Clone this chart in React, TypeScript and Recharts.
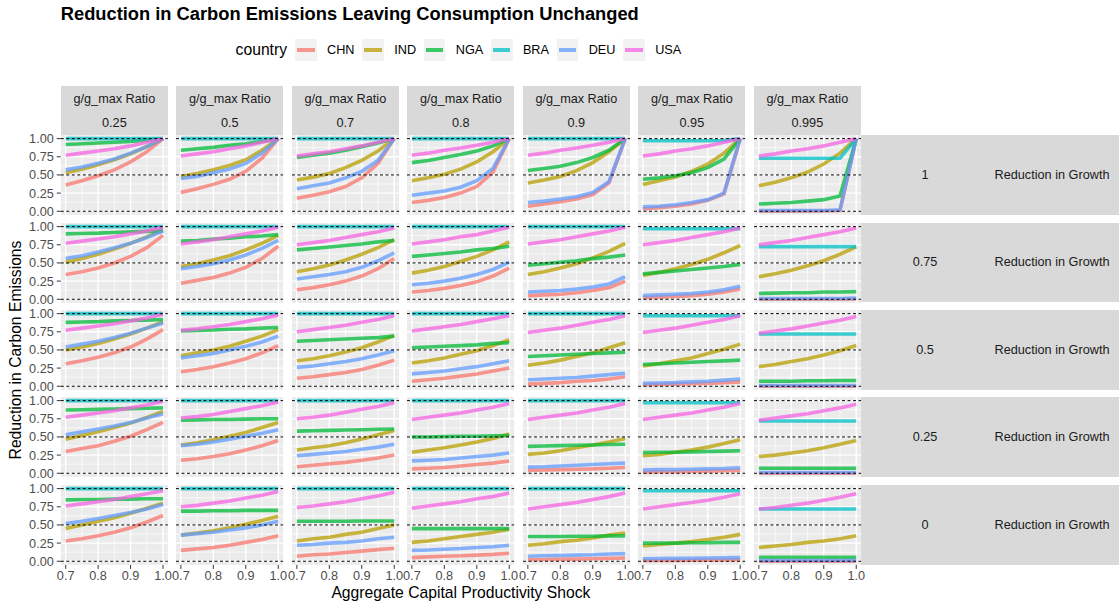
import { LineChart, Line, XAxis, YAxis, CartesianGrid, ReferenceLine } from "recharts";

// x values (aggregate capital productivity shock)
const shocks = [0.7, 0.75, 0.8, 0.85, 0.9, 0.95, 1.0];
// column facets: g/g_max ratio
const ratios = ["0.25", "0.5", "0.7", "0.8", "0.9", "0.95", "0.995"];
// row facets: reduction in growth
const growthCuts = ["1", "0.75", "0.5", "0.25", "0"];
const countries = ["CHN", "IND", "NGA", "BRA", "DEU", "USA"];

// each series: [growth row][ratio column][shock point]
const CHN = [
  [[0.36, 0.42, 0.49, 0.57, 0.68, 0.82, 1.0], [0.26, 0.31, 0.37, 0.44, 0.55, 0.73, 1.0], [0.18, 0.22, 0.27, 0.34, 0.46, 0.66, 1.0], [0.12, 0.15, 0.19, 0.25, 0.34, 0.54, 1.0], [0.07, 0.1, 0.13, 0.17, 0.23, 0.39, 1.0], [0.03, 0.05, 0.07, 0.1, 0.15, 0.24, 1.0], [0.0, 0.0, 0.0, 0.0, 0.005, 0.01, 1.0]],
  [[0.34, 0.38, 0.43, 0.5, 0.59, 0.71, 0.88], [0.22, 0.26, 0.3, 0.36, 0.44, 0.56, 0.73], [0.13, 0.16, 0.2, 0.25, 0.32, 0.42, 0.56], [0.1, 0.12, 0.15, 0.19, 0.24, 0.32, 0.43], [0.05, 0.06, 0.07, 0.09, 0.12, 0.16, 0.25], [0.02, 0.03, 0.04, 0.05, 0.07, 0.1, 0.14], [0.0, 0.0, 0.0, 0.0, 0.0, 0.0, 0.005]],
  [[0.31, 0.35, 0.4, 0.46, 0.54, 0.65, 0.78], [0.2, 0.23, 0.27, 0.32, 0.38, 0.46, 0.56], [0.11, 0.13, 0.16, 0.19, 0.23, 0.29, 0.36], [0.07, 0.09, 0.11, 0.14, 0.17, 0.21, 0.25], [0.03, 0.04, 0.05, 0.07, 0.08, 0.1, 0.13], [0.02, 0.025, 0.03, 0.035, 0.04, 0.05, 0.06], [0.0, 0.0, 0.0, 0.0, 0.0, 0.0, 0.0]],
  [[0.3, 0.34, 0.38, 0.44, 0.51, 0.6, 0.7], [0.18, 0.2, 0.23, 0.27, 0.32, 0.38, 0.45], [0.09, 0.11, 0.13, 0.15, 0.18, 0.21, 0.25], [0.06, 0.07, 0.08, 0.1, 0.12, 0.14, 0.17], [0.04, 0.045, 0.05, 0.055, 0.06, 0.07, 0.08], [0.015, 0.02, 0.02, 0.025, 0.03, 0.035, 0.04], [0.0, 0.0, 0.0, 0.0, 0.0, 0.0, 0.0]],
  [[0.28, 0.31, 0.35, 0.4, 0.46, 0.54, 0.63], [0.15, 0.17, 0.19, 0.22, 0.26, 0.3, 0.35], [0.07, 0.09, 0.1, 0.12, 0.14, 0.16, 0.18], [0.05, 0.06, 0.07, 0.075, 0.085, 0.095, 0.11], [0.02, 0.025, 0.03, 0.03, 0.035, 0.04, 0.045], [0.01, 0.01, 0.012, 0.014, 0.016, 0.018, 0.02], [0.0, 0.0, 0.0, 0.0, 0.0, 0.0, 0.0]],
];
const IND = [
  [[0.53, 0.58, 0.64, 0.71, 0.79, 0.89, 1.0], [0.48, 0.52, 0.57, 0.63, 0.71, 0.84, 1.0], [0.43, 0.47, 0.52, 0.6, 0.7, 0.83, 1.0], [0.42, 0.46, 0.51, 0.58, 0.68, 0.82, 1.0], [0.39, 0.43, 0.48, 0.56, 0.67, 0.82, 1.0], [0.37, 0.42, 0.47, 0.55, 0.65, 0.8, 1.0], [0.35, 0.4, 0.46, 0.54, 0.65, 0.8, 1.0]],
  [[0.51, 0.56, 0.62, 0.69, 0.77, 0.86, 0.96], [0.45, 0.49, 0.54, 0.6, 0.68, 0.77, 0.88], [0.38, 0.42, 0.47, 0.54, 0.62, 0.71, 0.82], [0.36, 0.4, 0.45, 0.52, 0.59, 0.68, 0.79], [0.34, 0.38, 0.43, 0.49, 0.57, 0.66, 0.77], [0.33, 0.37, 0.42, 0.48, 0.55, 0.64, 0.74], [0.31, 0.35, 0.4, 0.46, 0.53, 0.62, 0.72]],
  [[0.5, 0.54, 0.59, 0.65, 0.72, 0.8, 0.89], [0.42, 0.46, 0.5, 0.55, 0.62, 0.69, 0.78], [0.35, 0.38, 0.42, 0.47, 0.53, 0.61, 0.7], [0.32, 0.35, 0.39, 0.44, 0.49, 0.56, 0.64], [0.29, 0.32, 0.36, 0.41, 0.46, 0.53, 0.6], [0.28, 0.31, 0.35, 0.39, 0.45, 0.51, 0.58], [0.27, 0.3, 0.34, 0.38, 0.43, 0.49, 0.56]],
  [[0.47, 0.52, 0.57, 0.63, 0.69, 0.77, 0.85], [0.39, 0.42, 0.46, 0.51, 0.56, 0.63, 0.7], [0.32, 0.35, 0.38, 0.42, 0.47, 0.53, 0.59], [0.29, 0.32, 0.35, 0.39, 0.43, 0.48, 0.54], [0.26, 0.28, 0.31, 0.35, 0.39, 0.43, 0.48], [0.24, 0.26, 0.29, 0.32, 0.36, 0.41, 0.46], [0.23, 0.25, 0.28, 0.31, 0.35, 0.4, 0.45]],
  [[0.45, 0.5, 0.55, 0.6, 0.66, 0.73, 0.8], [0.36, 0.39, 0.42, 0.46, 0.51, 0.56, 0.62], [0.28, 0.31, 0.33, 0.37, 0.4, 0.45, 0.5], [0.26, 0.28, 0.31, 0.34, 0.37, 0.4, 0.44], [0.22, 0.24, 0.27, 0.29, 0.32, 0.36, 0.39], [0.21, 0.23, 0.25, 0.27, 0.3, 0.33, 0.37], [0.19, 0.21, 0.23, 0.26, 0.28, 0.31, 0.35]],
];
const NGA = [
  [[0.92, 0.93, 0.94, 0.95, 0.96, 0.98, 1.0], [0.84, 0.86, 0.88, 0.91, 0.93, 0.96, 1.0], [0.74, 0.77, 0.8, 0.84, 0.89, 0.94, 1.0], [0.67, 0.7, 0.74, 0.78, 0.83, 0.9, 1.0], [0.56, 0.59, 0.62, 0.67, 0.74, 0.84, 1.0], [0.44, 0.46, 0.49, 0.53, 0.6, 0.72, 1.0], [0.1, 0.11, 0.12, 0.14, 0.16, 0.21, 1.0]],
  [[0.9, 0.905, 0.91, 0.92, 0.93, 0.935, 0.94], [0.8, 0.81, 0.83, 0.84, 0.86, 0.87, 0.89], [0.68, 0.7, 0.72, 0.74, 0.76, 0.79, 0.81], [0.59, 0.61, 0.63, 0.65, 0.68, 0.7, 0.73], [0.47, 0.49, 0.51, 0.53, 0.56, 0.58, 0.61], [0.35, 0.37, 0.39, 0.41, 0.43, 0.45, 0.48], [0.08, 0.085, 0.09, 0.09, 0.1, 0.1, 0.105]],
  [[0.88, 0.885, 0.89, 0.9, 0.905, 0.91, 0.92], [0.76, 0.77, 0.775, 0.785, 0.79, 0.8, 0.81], [0.62, 0.63, 0.64, 0.65, 0.66, 0.67, 0.69], [0.53, 0.54, 0.55, 0.56, 0.57, 0.59, 0.6], [0.41, 0.42, 0.43, 0.44, 0.45, 0.46, 0.47], [0.3, 0.31, 0.32, 0.33, 0.34, 0.35, 0.36], [0.07, 0.07, 0.07, 0.075, 0.075, 0.08, 0.08]],
  [[0.87, 0.875, 0.88, 0.885, 0.89, 0.895, 0.9], [0.73, 0.735, 0.74, 0.74, 0.745, 0.75, 0.75], [0.58, 0.585, 0.59, 0.595, 0.6, 0.605, 0.61], [0.5, 0.5, 0.505, 0.51, 0.51, 0.515, 0.52], [0.37, 0.375, 0.38, 0.385, 0.39, 0.395, 0.4], [0.285, 0.29, 0.29, 0.295, 0.3, 0.305, 0.31], [0.07, 0.07, 0.07, 0.07, 0.07, 0.07, 0.07]],
  [[0.845, 0.85, 0.85, 0.855, 0.855, 0.86, 0.86], [0.69, 0.69, 0.695, 0.695, 0.7, 0.7, 0.7], [0.55, 0.55, 0.55, 0.55, 0.555, 0.555, 0.555], [0.45, 0.45, 0.45, 0.45, 0.45, 0.45, 0.45], [0.34, 0.34, 0.34, 0.345, 0.345, 0.35, 0.35], [0.25, 0.25, 0.25, 0.255, 0.255, 0.26, 0.26], [0.055, 0.055, 0.055, 0.055, 0.055, 0.055, 0.055]],
];
const BRA = [
  [[1, 1, 1, 1, 1, 1, 1], [1, 1, 1, 1, 1, 1, 1], [1, 1, 1, 1, 1, 1, 1], [1, 1, 1, 1, 1, 1, 1], [1, 1, 1, 1, 1, 1, 1], [0.97, 0.97, 0.97, 0.97, 0.97, 0.975, 1.0], [0.73, 0.73, 0.73, 0.73, 0.73, 0.73, 1.0]],
  [[1, 1, 1, 1, 1, 1, 1], [1, 1, 1, 1, 1, 1, 1], [1, 1, 1, 1, 1, 1, 1], [1, 1, 1, 1, 1, 1, 1], [1, 1, 1, 1, 1, 1, 1], [0.97, 0.97, 0.97, 0.97, 0.97, 0.97, 0.97], [0.725, 0.725, 0.725, 0.725, 0.725, 0.725, 0.725]],
  [[1, 1, 1, 1, 1, 1, 1], [1, 1, 1, 1, 1, 1, 1], [1, 1, 1, 1, 1, 1, 1], [1, 1, 1, 1, 1, 1, 1], [1, 1, 1, 1, 1, 1, 1], [0.97, 0.97, 0.97, 0.97, 0.97, 0.97, 0.97], [0.72, 0.72, 0.72, 0.72, 0.72, 0.72, 0.72]],
  [[1, 1, 1, 1, 1, 1, 1], [1, 1, 1, 1, 1, 1, 1], [1, 1, 1, 1, 1, 1, 1], [1, 1, 1, 1, 1, 1, 1], [1, 1, 1, 1, 1, 1, 1], [0.97, 0.97, 0.97, 0.97, 0.97, 0.97, 0.97], [0.72, 0.72, 0.72, 0.72, 0.72, 0.72, 0.72]],
  [[1, 1, 1, 1, 1, 1, 1], [1, 1, 1, 1, 1, 1, 1], [1, 1, 1, 1, 1, 1, 1], [1, 1, 1, 1, 1, 1, 1], [1, 1, 1, 1, 1, 1, 1], [0.97, 0.97, 0.97, 0.97, 0.97, 0.97, 0.97], [0.72, 0.72, 0.72, 0.72, 0.72, 0.72, 0.72]],
];
const DEU = [
  [[0.57, 0.61, 0.66, 0.72, 0.8, 0.89, 1.0], [0.45, 0.48, 0.53, 0.58, 0.66, 0.8, 1.0], [0.31, 0.35, 0.39, 0.46, 0.55, 0.7, 1.0], [0.22, 0.25, 0.28, 0.33, 0.42, 0.59, 1.0], [0.12, 0.14, 0.17, 0.2, 0.26, 0.41, 1.0], [0.06, 0.07, 0.09, 0.12, 0.16, 0.25, 1.0], [0.01, 0.01, 0.01, 0.01, 0.01, 0.02, 1.0]],
  [[0.56, 0.6, 0.65, 0.71, 0.77, 0.85, 0.94], [0.42, 0.45, 0.49, 0.54, 0.61, 0.7, 0.81], [0.28, 0.31, 0.34, 0.38, 0.44, 0.53, 0.64], [0.2, 0.22, 0.25, 0.29, 0.34, 0.41, 0.51], [0.1, 0.11, 0.12, 0.14, 0.17, 0.21, 0.31], [0.05, 0.06, 0.07, 0.08, 0.1, 0.13, 0.18], [0.01, 0.01, 0.01, 0.01, 0.01, 0.01, 0.015]],
  [[0.54, 0.58, 0.62, 0.67, 0.73, 0.8, 0.87], [0.39, 0.42, 0.45, 0.5, 0.55, 0.61, 0.69], [0.26, 0.28, 0.31, 0.34, 0.38, 0.43, 0.49], [0.17, 0.19, 0.21, 0.24, 0.27, 0.31, 0.35], [0.09, 0.1, 0.11, 0.12, 0.14, 0.16, 0.18], [0.04, 0.045, 0.05, 0.06, 0.07, 0.085, 0.1], [0.01, 0.01, 0.01, 0.01, 0.01, 0.01, 0.01]],
  [[0.53, 0.57, 0.61, 0.65, 0.7, 0.76, 0.82], [0.38, 0.4, 0.43, 0.47, 0.51, 0.55, 0.6], [0.24, 0.26, 0.28, 0.3, 0.33, 0.36, 0.4], [0.17, 0.18, 0.19, 0.21, 0.23, 0.25, 0.28], [0.085, 0.09, 0.1, 0.11, 0.12, 0.13, 0.14], [0.045, 0.05, 0.05, 0.055, 0.06, 0.065, 0.075], [0.01, 0.01, 0.01, 0.01, 0.01, 0.01, 0.01]],
  [[0.52, 0.55, 0.59, 0.63, 0.67, 0.72, 0.78], [0.36, 0.38, 0.4, 0.43, 0.46, 0.5, 0.55], [0.22, 0.23, 0.25, 0.26, 0.28, 0.31, 0.33], [0.15, 0.155, 0.165, 0.175, 0.19, 0.2, 0.22], [0.07, 0.075, 0.08, 0.085, 0.09, 0.1, 0.105], [0.035, 0.037, 0.04, 0.042, 0.045, 0.047, 0.05], [0.01, 0.01, 0.01, 0.01, 0.01, 0.01, 0.01]],
];
const USA = [
  [[0.77, 0.8, 0.83, 0.86, 0.9, 0.95, 1.0], [0.76, 0.79, 0.82, 0.86, 0.9, 0.95, 1.0], [0.76, 0.79, 0.82, 0.86, 0.9, 0.95, 1.0], [0.77, 0.8, 0.84, 0.87, 0.91, 0.95, 1.0], [0.77, 0.8, 0.84, 0.87, 0.91, 0.95, 1.0], [0.76, 0.79, 0.83, 0.86, 0.9, 0.95, 1.0], [0.76, 0.79, 0.83, 0.86, 0.9, 0.95, 1.0]],
  [[0.77, 0.8, 0.83, 0.86, 0.9, 0.94, 0.99], [0.76, 0.79, 0.82, 0.86, 0.9, 0.94, 0.99], [0.75, 0.78, 0.81, 0.85, 0.89, 0.93, 0.98], [0.76, 0.79, 0.82, 0.86, 0.89, 0.94, 0.99], [0.76, 0.79, 0.82, 0.86, 0.9, 0.94, 0.99], [0.75, 0.78, 0.81, 0.85, 0.89, 0.93, 0.98], [0.75, 0.78, 0.81, 0.85, 0.89, 0.93, 0.98]],
  [[0.77, 0.8, 0.83, 0.86, 0.9, 0.94, 0.99], [0.77, 0.79, 0.82, 0.85, 0.89, 0.93, 0.98], [0.75, 0.78, 0.81, 0.84, 0.88, 0.92, 0.97], [0.76, 0.79, 0.82, 0.85, 0.89, 0.93, 0.97], [0.74, 0.77, 0.8, 0.84, 0.88, 0.92, 0.97], [0.74, 0.77, 0.8, 0.84, 0.88, 0.92, 0.97], [0.73, 0.76, 0.79, 0.83, 0.87, 0.91, 0.96]],
  [[0.77, 0.8, 0.83, 0.86, 0.9, 0.94, 0.99], [0.76, 0.78, 0.81, 0.85, 0.89, 0.93, 0.98], [0.75, 0.77, 0.8, 0.84, 0.88, 0.92, 0.97], [0.74, 0.77, 0.8, 0.83, 0.87, 0.91, 0.96], [0.74, 0.77, 0.8, 0.83, 0.87, 0.91, 0.96], [0.74, 0.77, 0.8, 0.83, 0.87, 0.91, 0.96], [0.73, 0.76, 0.79, 0.82, 0.86, 0.9, 0.95]],
  [[0.76, 0.79, 0.82, 0.85, 0.89, 0.93, 0.97], [0.75, 0.77, 0.8, 0.83, 0.87, 0.91, 0.96], [0.74, 0.76, 0.79, 0.82, 0.86, 0.9, 0.95], [0.73, 0.76, 0.79, 0.82, 0.86, 0.89, 0.94], [0.72, 0.75, 0.78, 0.81, 0.85, 0.89, 0.94], [0.72, 0.75, 0.78, 0.81, 0.84, 0.88, 0.93], [0.72, 0.74, 0.77, 0.8, 0.84, 0.88, 0.93]],
];

const SERIES: Record<string, number[][][]> = { CHN, IND, NGA, BRA, DEU, USA };

// ggplot default hue palette
const COLORS: Record<string, string> = {
  CHN: "#F8766D",
  IND: "#B79F00",
  NGA: "#00BA38",
  BRA: "#00BFC4",
  DEU: "#619CFF",
  USA: "#F564E3",
};

const FONT = '"Liberation Sans", Arial, Helvetica, sans-serif';

// facet geometry
const PANEL_X0 = 60.8;
const PANEL_DX = 115.5;
const PANEL_W = 107.1;
const PANEL_Y0 = 135.1;
const PANEL_DY = 87.4;
const PANEL_H = 79.9;
const YAXIS_W = 60.8;
const XAXIS_H = 30;

const tickStyle = { fill: "#4D4D4D", fontSize: 12.7, fontFamily: FONT };

function Panel({ row, col }: { row: number; col: number }) {
  const data = shocks.map((x, k) => {
    const d: Record<string, number> = { x };
    countries.forEach((c) => {
      d[c] = SERIES[c][row][col][k];
    });
    return d;
  });
  const left = col === 0;
  const bottom = row === growthCuts.length - 1;
  const w = PANEL_W + (left ? YAXIS_W : 0);
  const h = PANEL_H + (bottom ? XAXIS_H : 0);

  return (
    <div
      style={{
        position: "absolute",
        left: left ? 0 : PANEL_X0 + PANEL_DX * col,
        top: PANEL_Y0 + PANEL_DY * row,
      }}
    >
      <LineChart width={w} height={h} data={data} margin={{ top: 0, right: 0, bottom: 0, left: 0 }}>
        <XAxis
          dataKey="x"
          type="number"
          domain={[0.685, 1.015]}
          allowDataOverflow
          ticks={[0.7, 0.8, 0.9, 1.0]}
          interval={0}
          hide={!bottom}
          height={XAXIS_H}
          axisLine={false}
          tickSize={4}
          tickMargin={2}
          tickLine={{ stroke: "#333333" }}
          tick={tickStyle}
          tickFormatter={(v: number) => v.toFixed(1)}
        />
        <YAxis
          type="number"
          domain={[-0.05, 1.05]}
          allowDataOverflow
          ticks={[0, 0.25, 0.5, 0.75, 1]}
          interval={0}
          hide={!left}
          width={YAXIS_W}
          axisLine={false}
          tickSize={4}
          tickMargin={3}
          tickLine={{ stroke: "#333333" }}
          tick={tickStyle}
          tickFormatter={(v: number) => v.toFixed(2)}
        />
        <CartesianGrid
          fill="#EBEBEB"
          stroke="#FFFFFF"
          strokeWidth={0.7}
          horizontalValues={[0.125, 0.375, 0.625, 0.875]}
          verticalValues={[0.75, 0.85, 0.95]}
        />
        <CartesianGrid
          stroke="#FFFFFF"
          strokeWidth={1.4}
          horizontalValues={[0, 0.25, 0.5, 0.75, 1]}
          verticalValues={[0.7, 0.8, 0.9, 1.0]}
        />
        {countries.map((c) => (
          <Line
            key={c}
            type="linear"
            dataKey={c}
            stroke={COLORS[c]}
            strokeWidth={3.6}
            strokeOpacity={0.75}
            dot={false}
            activeDot={false}
            isAnimationActive={false}
          />
        ))}
        {[0, 0.5, 1].map((v) => (
          <ReferenceLine key={v} y={v} stroke="#000000" strokeWidth={1} strokeDasharray="3 2.5" />
        ))}
      </LineChart>
    </div>
  );
}

function Centered({ x, y, size, children, weight, rotate, color }: any) {
  return (
    <div
      style={{
        position: "absolute",
        left: x,
        top: y,
        transform: `translate(-50%, -50%)${rotate ? ` rotate(${rotate}deg)` : ""}`,
        fontSize: size,
        fontWeight: weight || "normal",
        color: color || "#000",
        whiteSpace: "nowrap",
        lineHeight: 1,
      }}
    >
      {children}
    </div>
  );
}

export default function App() {
  const stripColor = "#D9D9D9";
  return (
    <div
      style={{
        position: "absolute",
        left: 0,
        top: 0,
        width: 1119,
        height: 608,
        background: "#FFFFFF",
        fontFamily: FONT,
        overflow: "hidden",
      }}
    >
      <style>{".recharts-surface{overflow:visible}"}</style>

      <div
        style={{
          position: "absolute",
          left: 60.8,
          top: 14,
          transform: "translateY(-50%)",
          fontSize: 18.3,
          fontWeight: "bold",
          lineHeight: 1,
          whiteSpace: "nowrap",
        }}
      >
        Reduction in Carbon Emissions Leaving Consumption Unchanged
      </div>

      {/* legend */}
      <div
        style={{
          position: "absolute",
          left: 235.6,
          top: 39,
          height: 22,
          display: "flex",
          alignItems: "center",
          whiteSpace: "nowrap",
        }}
      >
        <span style={{ fontSize: 15.7, marginRight: 8 }}>country</span>
        {countries.map((c) => (
          <div key={c} style={{ display: "flex", alignItems: "center", marginRight: 7.7 }}>
            <div
              style={{
                width: 21.7,
                height: 21.7,
                background: "#F2F2F2",
                display: "flex",
                alignItems: "center",
                justifyContent: "center",
              }}
            >
              <div style={{ width: 17.4, height: 3.6, background: COLORS[c], opacity: 0.75 }} />
            </div>
            <span style={{ fontSize: 12.7, marginLeft: 10.3, color: "#000" }}>{c}</span>
          </div>
        ))}
      </div>

      {/* top strips */}
      {ratios.map((r, i) => (
        <div
          key={r}
          style={{
            position: "absolute",
            left: PANEL_X0 + PANEL_DX * i,
            top: 86,
            width: PANEL_W,
            height: PANEL_Y0 - 86,
            background: stripColor,
          }}
        >
          <Centered x={PANEL_W / 2} y={13} size={12.7} color="#1A1A1A">
            g/g_max Ratio
          </Centered>
          <Centered x={PANEL_W / 2} y={36.7} size={12.7} color="#1A1A1A">
            {r}
          </Centered>
        </div>
      ))}

      {/* right strips */}
      {growthCuts.map((g, j) => (
        <div
          key={g}
          style={{
            position: "absolute",
            left: 861,
            top: PANEL_Y0 + PANEL_DY * j,
            width: 258,
            height: PANEL_H,
            background: stripColor,
          }}
        >
          <Centered x={64} y={PANEL_H / 2} size={12.7} color="#1A1A1A">
            {g}
          </Centered>
          <Centered x={191} y={PANEL_H / 2} size={12.7} color="#1A1A1A">
            Reduction in Growth
          </Centered>
        </div>
      ))}

      {growthCuts.map((g, j) => ratios.map((r, i) => <Panel key={`${g}-${r}`} row={j} col={i} />))}

      <Centered x={16} y={349.9} size={15.7} rotate={-90}>
        Reduction in Carbon Emissions
      </Centered>
      <Centered x={460.9} y={593} size={15.7}>
        Aggregate Capital Productivity Shock
      </Centered>
    </div>
  );
}
